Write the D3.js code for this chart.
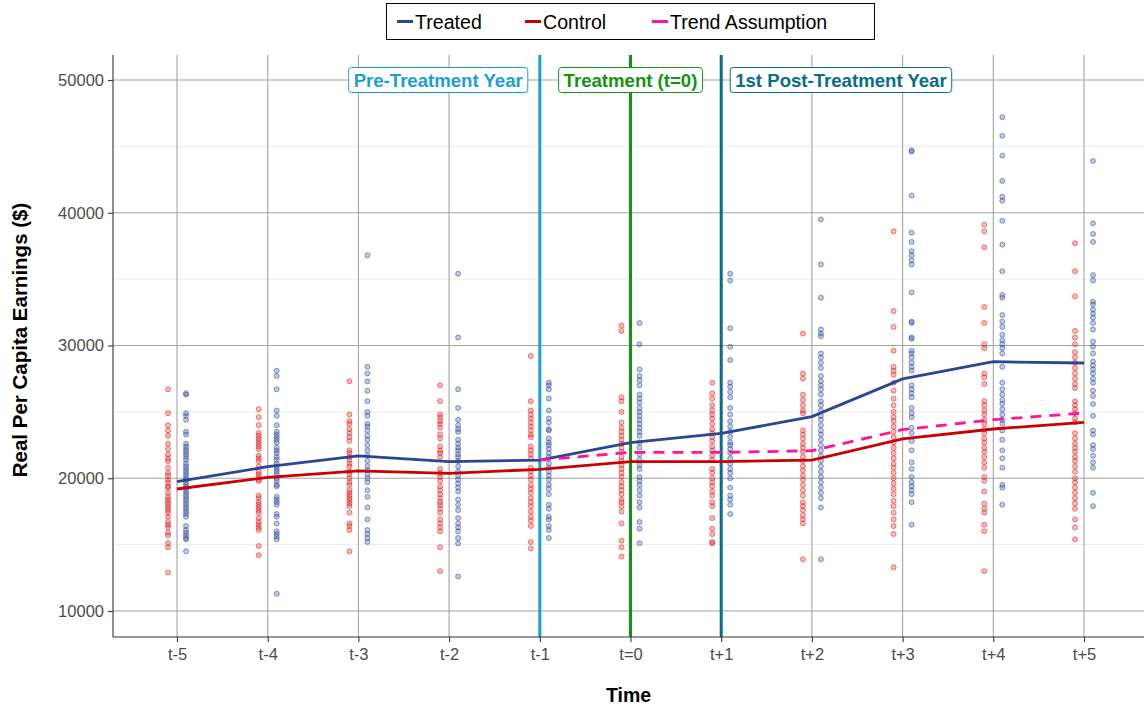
<!DOCTYPE html>
<html>
<head>
<meta charset="utf-8">
<script src="https://cdn.jsdelivr.net/npm/d3@7"></script>
<style>
  body { margin: 0; background: #fff; }
  svg { display: block; font-family: "Liberation Sans", Arial, sans-serif; }
</style>
</head>
<body>
<svg id="chart" width="1144" height="709"></svg>
<script>
// time periods relative to treatment
const times = ["t-5", "t-4", "t-3", "t-2", "t-1", "t=0", "t+1", "t+2", "t+3", "t+4", "t+5"]
const yTicks = [10000, 20000, 30000, 40000, 50000]
const yMinorTicks = [15000, 25000, 35000, 45000]

// group means ($)
const treatedMean = [19740, 20870, 21680, 21250, 21370, 22680, 23380, 24640, 27480, 28780, 28680]
const controlMean = [19190, 20070, 20550, 20370, 20670, 21250, 21250, 21370, 22960, 23710, 24210]

// parallel trend: control path shifted to treated level, from t-1 on
const trendTimes = ["t-1", "t=0", "t+1", "t+2", "t+3", "t+4", "t+5"]
const trendValues = [21370, 21950, 21950, 22070, 23660, 24410, 24910]

// reference years
const markerTimes = ["t-1", "t=0", "t+1"]
const markerLabels = ["Pre-Treatment Year", "Treatment (t=0)", "1st Post-Treatment Year"]

// individual observations, in $1000s, one array per period
const controlPoints = [
    [26.7, 24.9, 24.0, 23.6, 23.2, 22.6, 22.2, 21.8, 21.5, 21.3, 20.8, 20.4, 20.2, 19.9, 19.7, 19.4, 19.3, 18.9, 18.6, 18.4, 18.2, 18.0, 17.8, 17.6, 17.4, 17.1, 16.7, 16.5, 16.3, 15.9, 15.7, 15.1, 14.8, 12.9],
    [25.2, 24.6, 24.0, 23.4, 23.2, 23.0, 22.8, 22.6, 22.4, 22.2, 21.7, 21.5, 21.3, 20.9, 20.5, 20.3, 20.1, 19.9, 19.8, 18.7, 18.5, 18.2, 18.0, 17.8, 17.6, 17.4, 17.0, 16.7, 16.5, 16.3, 16.1, 14.9, 14.2],
    [27.3, 24.8, 24.3, 24.1, 23.7, 23.4, 23.1, 22.8, 22.1, 21.9, 21.6, 21.4, 21.1, 20.9, 20.5, 20.3, 20.0, 19.7, 19.5, 19.1, 18.9, 18.7, 18.5, 18.3, 18.1, 17.9, 17.4, 16.6, 16.4, 16.1, 14.5],
    [27.0, 25.8, 24.8, 24.6, 24.3, 24.1, 23.8, 23.3, 23.0, 22.4, 22.1, 21.9, 21.6, 20.7, 20.4, 20.1, 19.8, 19.4, 19.1, 18.8, 18.5, 18.2, 18.0, 17.7, 17.4, 16.9, 16.6, 16.3, 16.0, 14.8, 13.0],
    [29.2, 25.8, 25.1, 24.8, 24.5, 24.2, 23.9, 23.6, 23.3, 23.1, 22.4, 22.1, 21.8, 21.5, 20.8, 20.5, 20.2, 19.9, 19.5, 19.2, 18.9, 18.5, 18.2, 17.9, 17.5, 17.1, 16.8, 16.4, 15.2, 14.7],
    [31.5, 31.1, 26.1, 25.8, 25.0, 24.2, 23.8, 23.5, 23.2, 22.9, 22.6, 22.3, 22.0, 21.6, 21.3, 21.0, 20.7, 20.4, 20.1, 19.7, 19.4, 19.1, 18.8, 18.4, 18.2, 17.9, 17.5, 16.6, 15.3, 14.8, 14.1],
    [27.2, 26.4, 26.0, 25.5, 25.1, 24.8, 24.5, 24.1, 23.7, 23.4, 23.1, 22.8, 22.4, 22.1, 21.7, 21.4, 20.7, 20.4, 20.0, 19.7, 19.4, 19.0, 18.7, 18.2, 17.9, 17.0, 16.2, 15.8, 15.2, 15.1],
    [30.9, 27.9, 27.5, 26.3, 25.9, 25.5, 25.1, 24.9, 23.6, 23.3, 23.0, 22.6, 22.3, 22.0, 21.6, 21.3, 20.9, 20.6, 20.2, 19.9, 19.5, 19.1, 18.7, 18.2, 17.9, 17.6, 17.2, 16.9, 16.6, 13.9],
    [38.6, 32.6, 31.4, 29.6, 28.4, 28.1, 27.8, 27.2, 26.6, 26.0, 25.5, 25.0, 24.6, 24.3, 23.9, 23.5, 23.1, 22.7, 22.3, 21.9, 21.5, 21.1, 20.8, 20.4, 20.0, 19.6, 19.2, 18.8, 18.3, 17.9, 17.4, 16.9, 16.4, 15.8, 13.3],
    [39.1, 38.6, 37.4, 32.9, 31.7, 30.1, 29.8, 27.9, 27.6, 27.1, 25.8, 25.5, 25.1, 24.8, 24.4, 24.1, 23.7, 23.4, 23.0, 22.7, 22.3, 22.0, 21.6, 21.2, 20.8, 20.1, 19.8, 19.0, 18.1, 17.7, 17.4, 16.5, 16.0, 13.0],
    [37.7, 35.6, 33.7, 31.1, 30.6, 30.1, 29.5, 29.1, 28.7, 28.3, 27.9, 27.5, 27.1, 26.8, 25.8, 25.5, 25.2, 24.9, 24.5, 24.2, 23.4, 23.0, 22.6, 22.3, 22.0, 21.6, 21.3, 20.9, 20.5, 20.0, 19.7, 19.3, 18.9, 18.5, 18.1, 17.7, 16.9, 16.3, 15.4]
]

const treatedPoints = [
    [26.4, 26.3, 24.9, 24.7, 24.4, 23.5, 23.3, 22.6, 22.4, 22.2, 22.0, 21.8, 21.6, 21.4, 21.1, 20.9, 20.7, 20.5, 20.3, 20.1, 19.9, 19.7, 19.5, 19.3, 19.1, 18.9, 18.7, 18.5, 18.3, 18.1, 17.9, 17.7, 17.5, 17.3, 17.1, 16.4, 16.1, 15.9, 15.7, 15.5, 15.4, 14.5],
    [28.1, 27.7, 26.7, 25.1, 24.7, 24.0, 23.5, 23.3, 23.1, 22.9, 22.7, 22.3, 22.1, 21.9, 21.6, 21.4, 21.1, 20.9, 20.7, 20.5, 20.3, 20.0, 19.8, 19.5, 19.4, 18.6, 18.4, 18.2, 18.0, 17.3, 17.1, 16.6, 16.0, 15.8, 15.6, 15.4, 11.3],
    [36.8, 28.4, 27.9, 27.3, 26.6, 25.8, 25.0, 24.7, 24.1, 23.9, 23.6, 23.2, 22.9, 22.5, 22.1, 21.7, 21.3, 20.9, 20.6, 20.3, 20.0, 19.7, 19.1, 18.6, 17.8, 16.9, 16.1, 15.8, 15.5, 15.2],
    [35.4, 30.6, 26.7, 25.3, 24.4, 24.0, 23.7, 23.5, 22.9, 22.6, 22.3, 22.1, 21.8, 21.6, 21.3, 20.9, 20.5, 20.2, 19.9, 19.6, 19.3, 19.0, 18.4, 18.0, 17.6, 17.0, 16.6, 16.3, 16.0, 15.5, 15.1, 12.6],
    [27.2, 27.0, 26.7, 26.0, 25.1, 24.5, 24.2, 23.7, 23.6, 23.0, 22.7, 22.5, 22.2, 21.9, 21.6, 21.1, 20.8, 20.5, 20.2, 19.9, 19.5, 19.2, 18.8, 18.0, 17.7, 17.1, 16.9, 16.4, 16.1, 15.5],
    [31.7, 30.1, 28.2, 27.7, 27.4, 27.0, 26.3, 26.0, 25.7, 25.3, 25.0, 24.7, 24.4, 24.1, 23.8, 23.5, 23.2, 22.7, 22.3, 21.8, 21.4, 21.0, 20.7, 20.1, 19.8, 19.5, 19.1, 18.7, 18.2, 17.8, 16.7, 16.2, 15.1],
    [35.4, 34.9, 31.3, 29.9, 28.9, 27.2, 26.9, 26.5, 26.1, 25.3, 24.8, 24.3, 23.9, 23.5, 23.1, 22.7, 22.5, 22.2, 21.9, 21.5, 21.1, 20.7, 20.4, 20.0, 19.3, 18.7, 18.4, 18.0, 17.3],
    [39.5, 36.1, 33.6, 31.2, 30.9, 30.7, 29.4, 29.1, 28.7, 28.3, 27.7, 27.3, 27.0, 26.7, 26.3, 25.8, 25.5, 25.1, 24.7, 24.4, 24.0, 23.6, 23.3, 22.9, 22.5, 22.1, 21.7, 21.3, 20.9, 20.5, 20.1, 19.7, 19.3, 18.9, 18.5, 17.8, 13.9],
    [44.7, 44.6, 41.3, 38.5, 37.8, 37.1, 36.8, 36.4, 36.1, 34.0, 31.8, 31.7, 30.6, 30.5, 29.6, 29.4, 29.1, 28.7, 28.4, 28.1, 27.0, 26.7, 26.4, 26.1, 25.3, 24.9, 24.6, 23.8, 23.4, 22.8, 22.1, 21.2, 20.7, 20.1, 19.7, 19.4, 19.1, 18.8, 18.2, 16.5],
    [47.2, 45.8, 44.3, 42.4, 41.2, 40.9, 39.4, 37.6, 35.6, 33.8, 33.6, 32.3, 31.8, 31.4, 30.8, 30.4, 30.1, 29.8, 29.4, 28.4, 27.2, 26.7, 26.3, 25.9, 25.6, 25.2, 24.8, 24.4, 24.1, 23.6, 22.9, 22.1, 21.5, 20.8, 19.5, 19.3, 18.0],
    [43.9, 39.2, 38.4, 37.8, 35.3, 34.9, 33.3, 33.1, 32.7, 32.4, 32.1, 31.7, 31.2, 30.3, 29.9, 29.4, 28.8, 28.5, 28.2, 27.9, 27.5, 27.2, 26.6, 26.2, 25.6, 24.7, 23.6, 23.3, 22.5, 22.2, 21.7, 21.2, 20.8, 18.9, 17.9]
]

// ---- styles ----
const treatedColor = "#2b4592"
const controlColor = "#cc0000"
const trendColor = "#ff1493"
const markerColors = ["#1b9fd5", "#119411", "#0b6b8c"]
const tickTextColor = "#4d4d4d"

const W = 1144, H = 709
const panel = { left: 113, right: 1148, top: 55, bottom: 637 }

const svg = d3.select("#chart")

const x = d3.scalePoint()
    .domain(times)
    .range([177, 1084])

const y = d3.scaleLinear()
    .domain([10000, 50000])
    .range([611, 80])

svg.append("clipPath").attr("id", "panel")
    .append("rect")
    .attr("x", panel.left).attr("y", panel.top)
    .attr("width", panel.right - panel.left).attr("height", panel.bottom - panel.top)

// grid
const grid = svg.append("g")
grid.selectAll(".minor")
    .data(yMinorTicks)
    .join("line")
    .attr("x1", panel.left).attr("x2", panel.right)
    .attr("y1", d => y(d)).attr("y2", d => y(d))
    .attr("stroke", "#ebebeb").attr("stroke-width", 1)
grid.selectAll(".majorY")
    .data(yTicks)
    .join("line")
    .attr("x1", panel.left).attr("x2", panel.right)
    .attr("y1", d => y(d)).attr("y2", d => y(d))
    .attr("stroke", "#a3a3a3").attr("stroke-width", 1.1)
grid.selectAll(".majorX")
    .data(times)
    .join("line")
    .attr("x1", d => x(d)).attr("x2", d => x(d))
    .attr("y1", panel.top).attr("y2", panel.bottom)
    .attr("stroke", "#a3a3a3").attr("stroke-width", 1.1)

// points
const pointLayer = svg.append("g").attr("clip-path", "url(#panel)")
function drawPoints(groups, dx, color) {
    let flat = []
    groups.forEach((vals, i) => vals.forEach(v => flat.push({ t: times[i], v: v * 1000 })))
    pointLayer.append("g")
        .selectAll("circle")
        .data(flat)
        .join("circle")
        .attr("cx", d => x(d.t) + dx)
        .attr("cy", d => y(d.v))
        .attr("r", 2.5)
        .attr("fill", color)
        .attr("fill-opacity", 0.3)
        .attr("stroke", color)
        .attr("stroke-opacity", 0.55)
        .attr("stroke-width", 1)
}
drawPoints(controlPoints, -9, "#e02020")
drawPoints(treatedPoints, 9, "#3450a0")

// reference year lines
svg.append("g")
    .selectAll("line")
    .data(markerTimes)
    .join("line")
    .attr("x1", d => x(d)).attr("x2", d => x(d))
    .attr("y1", panel.top).attr("y2", panel.bottom)
    .attr("stroke", (d, i) => markerColors[i])
    .attr("stroke-width", 3)

// mean lines
const line = d3.line()
    .x(d => x(d[0]))
    .y(d => y(d[1]))

svg.append("path")
    .datum(d3.zip(times, controlMean))
    .attr("d", line)
    .attr("fill", "none")
    .attr("stroke", controlColor)
    .attr("stroke-width", 2.8)

svg.append("path")
    .datum(d3.zip(times, treatedMean))
    .attr("d", line)
    .attr("fill", "none")
    .attr("stroke", treatedColor)
    .attr("stroke-width", 2.8)

svg.append("path")
    .datum(d3.zip(trendTimes, trendValues))
    .attr("d", line)
    .attr("fill", "none")
    .attr("stroke", trendColor)
    .attr("stroke-width", 2.8)
    .attr("stroke-dasharray", "11,8")

// labels for reference years
const anchors = ["end", "middle", "start"]
const offsets = [-17, 0, 14]
markerTimes.forEach((t, i) => {
    let g = svg.append("g")
    let txt = g.append("text")
        .attr("x", x(t) + offsets[i])
        .attr("y", y(50000))
        .attr("dy", "0.36em")
        .attr("text-anchor", anchors[i])
        .attr("font-size", 18.6)
        .attr("font-weight", "bold")
        .attr("fill", markerColors[i])
        .text(markerLabels[i])
    let bb = txt.node().getBBox()
    g.insert("rect", "text")
        .attr("x", bb.x - 5).attr("y", y(50000) - 12.5)
        .attr("width", bb.width + 10).attr("height", 25)
        .attr("rx", 3)
        .attr("fill", "white")
        .attr("stroke", markerColors[i])
        .attr("stroke-width", 1)
})

// axes
const yAxis = svg.append("g")
    .attr("transform", `translate(${panel.left},0)`)
    .call(d3.axisLeft(y).tickValues(yTicks).tickFormat(d3.format("d")).tickSize(5).tickPadding(4))
const xAxis = svg.append("g")
    .attr("transform", `translate(0,${panel.bottom})`)
    .call(d3.axisBottom(x).tickSize(5).tickPadding(6))
;[yAxis, xAxis].forEach(a => {
    a.select(".domain").remove()
    a.selectAll(".tick line").attr("stroke", "#333").attr("stroke-width", 1.1)
    a.selectAll(".tick text")
        .attr("font-size", 16.5)
        .attr("font-family", "Liberation Sans, Arial, sans-serif")
        .attr("fill", tickTextColor)
})
svg.append("line")
    .attr("x1", panel.left).attr("x2", panel.left)
    .attr("y1", panel.top).attr("y2", panel.bottom)
    .attr("stroke", "#333").attr("stroke-width", 1.1)
svg.append("line")
    .attr("x1", panel.left).attr("x2", W)
    .attr("y1", panel.bottom).attr("y2", panel.bottom)
    .attr("stroke", "#333").attr("stroke-width", 1.1)

// axis titles
svg.append("text")
    .attr("x", (panel.left + W) / 2)
    .attr("y", 702)
    .attr("text-anchor", "middle")
    .attr("font-size", 19.5)
    .attr("font-weight", "bold")
    .text("Time")
svg.append("text")
    .attr("transform", `translate(27,${(panel.top + panel.bottom) / 2 - 6}) rotate(-90)`)
    .attr("text-anchor", "middle")
    .attr("font-size", 20.5)
    .attr("font-weight", "bold")
    .text("Real Per Capita Earnings ($)")

// legend
const legendItems = [
    { name: "Treated", color: treatedColor, x: 397 },
    { name: "Control", color: controlColor, x: 525 },
    { name: "Trend Assumption", color: trendColor, x: 652 }
]
const legend = svg.append("g")
legend.append("rect")
    .attr("x", 386.5).attr("y", 3.5)
    .attr("width", 488).attr("height", 36)
    .attr("fill", "white").attr("stroke", "black").attr("stroke-width", 1)
legend.selectAll("line")
    .data(legendItems)
    .join("line")
    .attr("x1", d => d.x).attr("x2", d => d.x + 16)
    .attr("y1", 21.5).attr("y2", 21.5)
    .attr("stroke", d => d.color).attr("stroke-width", 3)
legend.selectAll("text")
    .data(legendItems)
    .join("text")
    .attr("x", d => d.x + 18)
    .attr("y", 28.5)
    .attr("font-size", 19.6)
    .text(d => d.name)
</script>
</body>
</html>
